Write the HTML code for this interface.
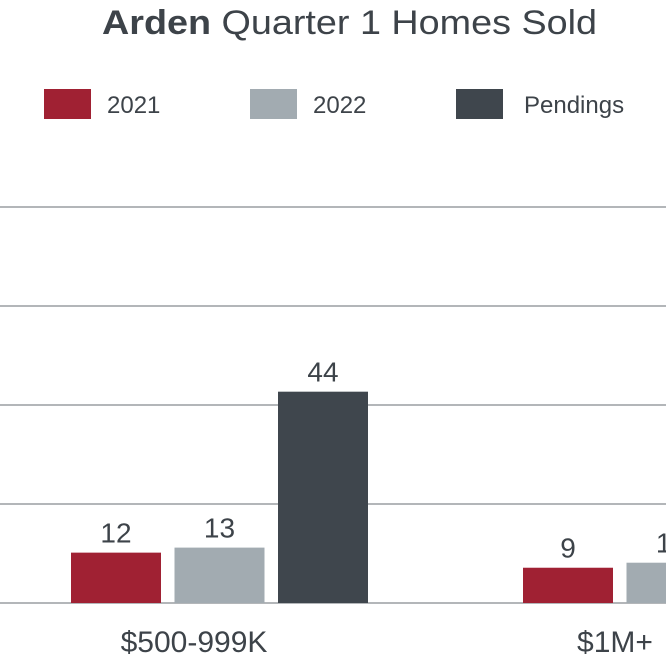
<!DOCTYPE html>
<html><head><meta charset="utf-8"><style>
html,body{margin:0;padding:0;background:#fff;width:666px;height:666px;overflow:hidden}
svg{display:block;font-family:"Liberation Sans",sans-serif}
</style></head><body>
<svg id="chart" width="666" height="666" viewBox="0 0 666 666">
<text x="102" y="34" font-size="34" fill="#3d4349" textLength="495" lengthAdjust="spacingAndGlyphs"><tspan font-weight="bold">Arden</tspan> Quarter 1 Homes Sold</text>
<g id="legend"></g>
<g id="grid"></g>
<g id="bars"></g>
<g id="xlabels"></g>
</svg>
<script>
const categories = ["$500-999K", "$1M+"];
const seriesNames = ["2021", "2022", "Pendings"];
const values2021 = [12, 9];
const values2022 = [13, 10];
const valuesPendings = [44, 20];
const gridTicks = [0, 20, 40, 60, 80];

const NS = "http://www.w3.org/2000/svg";
const colors = ["#a02133", "#a2abb1", "#3f464d"];
const series = [values2021, values2022, valuesPendings];
const base = 603;
function yBar(v){ return base - Math.max(0, v * 5.03 - 10); }
function yGrid(v){ return base - v * 4.95; }
function mk(tag, attrs, parent){ const e=document.createElementNS(NS,tag); for(const k in attrs) e.setAttribute(k,attrs[k]); parent.appendChild(e); return e; }

const grid=document.getElementById('grid');
gridTicks.forEach((t,i)=>{
  const l=mk('line',{x1:0,x2:666,y1:yGrid(t),y2:yGrid(t),stroke:'#9a9ea2','stroke-width':1.5},grid);
  
  
});

const legend=document.getElementById('legend');
const legX=[44,250,456];
seriesNames.forEach((n,i)=>{
  const r=mk('rect',{x:legX[i],y:89,width:47,height:30,fill:colors[i]},legend);
  
  
  const t=mk('text',{x:legX[i]+63+(i==2?5:0),y:113,'font-size':24,fill:'#3d4349'},legend);
  t.textContent=n;
  
  
});

const bars=document.getElementById('bars');
const groupX=[71,523], barW=90, step=103.5;
categories.forEach((c,gi)=>{
  series.forEach((s,si)=>{
    const x=groupX[gi]+si*step, y=yBar(s[gi]);
    const r=mk('rect',{x:x,y:y,width:barW,height:base-y,fill:colors[si]},bars);
    
    
    const t=mk('text',{x:x+barW/2,y:y-10,'font-size':28,fill:'#3d4349','text-anchor':'middle'},bars);
    t.textContent=s[gi];
    
    
  });
});

const xl=document.getElementById('xlabels');
const labX=[194,615];
categories.forEach((c,i)=>{
  const t=mk('text',{x:labX[i],y:652,'font-size':30,fill:'#3d4349','text-anchor':'middle'},xl);
  t.textContent=c;
  
  
});
</script>
</body></html>
